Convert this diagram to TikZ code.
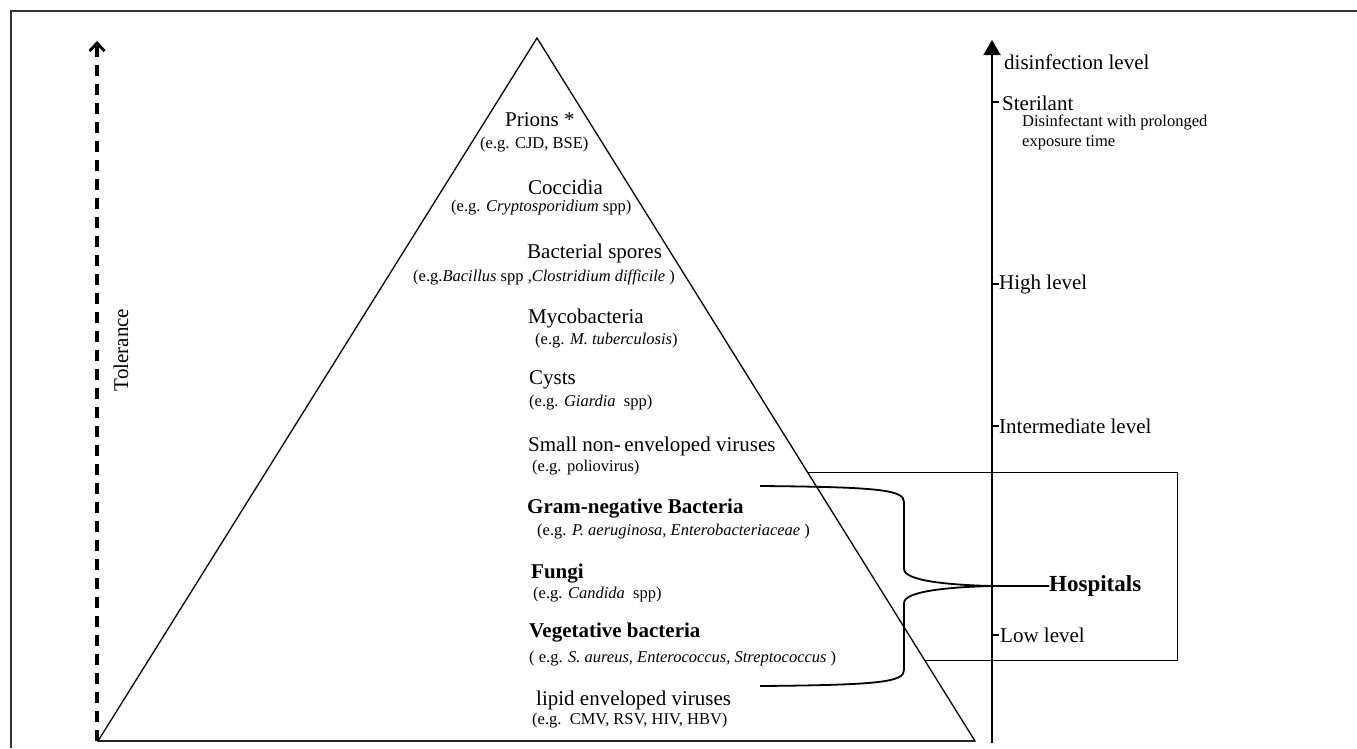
\documentclass[tikz,border=0pt]{standalone}
\usepackage{fontspec}
\setmainfont{Liberation Serif}
\usetikzlibrary{arrows.meta}
\begin{document}
\begin{tikzpicture}[x=1pt,y=-1pt,
  lbl/.style={anchor=west,inner sep=0pt,font=\fontsize{21}{25}\selectfont},
  blbl/.style={anchor=west,inner sep=0pt,font=\fontsize{21}{25}\selectfont\bfseries},
  sub/.style={anchor=west,inner sep=0pt,font=\fontsize{16.5}{20}\selectfont},
  tick/.style={line width=1.3pt},
  bracestyle/.style={line width=1.8pt},
  tolaxis/.style={line width=3.3pt,dash pattern=on 11pt off 8pt,-{Straight Barb[length=8pt,width=15pt,line width=2.8pt]}},
  disaxis/.style={line width=2pt,-{Triangle[length=15pt,width=17pt]}}]
\useasboundingbox (0,0) rectangle (1357,748);
% frame
\draw[line width=1.5pt,black!80] (11,748) -- (11,11) -- (1357,11);
% hospital box (behind triangle)
\draw[line width=1pt] (808,472) rectangle (1177,660);
% triangle
\coordinate (apex) at (537,38);
\coordinate (bl) at (98,741);
\coordinate (br) at (975,741);
\filldraw[fill=white,line width=1.3pt] (apex) -- (bl) -- (br) -- cycle;
\draw[line width=2pt,black!85] (bl) -- (br);
% tolerance axis
\coordinate (tolB) at (97,741);
\coordinate (tolT) at (97,41);
\draw[tolaxis] (tolB) -- (tolT);
\node[lbl,anchor=center,rotate=90] (tol) at (121,350) {Tolerance};
% disinfection axis
\coordinate (axB) at (992,743);
\coordinate (axT) at (992,40);
\draw[disaxis] (axB) -- (axT);
\node[lbl] (dl) at (1004,62) {disinfection level};
\draw[tick] (992,102) -- (999,102);
\node[lbl] (ster) at (1002,103) {Sterilant};
\node[sub] (dis1) at (1022,122) {Disinfectant with prolonged};
\node[sub] (dis2) at (1022,143) {exposure time};
\draw[tick] (992,284) -- (999,284);
\node[lbl] (high) at (999,284) {High level};
\draw[tick] (992,426) -- (999,426);
\node[lbl] (inter) at (999,426) {Intermediate level};
\draw[tick] (992,635) -- (999,635);
\node[lbl] (low) at (1000,635) {Low level};
% pyramid labels
\node[lbl] (prions) at (505,120) {Prions *};
\node[sub] (prionsE) at (480,145) {(e.g. CJD, BSE)};
\node[lbl] (cocc) at (528,187) {Coccidia};
\node[sub] (coccE) at (451,208) {(e.g. \textit{Cryptosporidium} spp)};
\node[lbl] (spores) at (527,253) {Bacterial spores};
\node[sub] (sporesE) at (413,277) {(e.g.\textit{Bacillus} spp ,\textit{Clostridium difficile} )};
\node[lbl] (myco) at (528,318) {Mycobacteria};
\node[sub] (mycoE) at (535,341) {(e.g. \textit{M. tuberculosis})};
\node[lbl] (cysts) at (529,380) {Cysts};
\node[sub] (cystsE) at (529,403) {(e.g. \textit{Giardia}\ \ spp)};
\node[lbl] (small) at (528,446) {Small non-\,enveloped viruses};
\node[sub] (smallE) at (532,468) {(e.g. poliovirus)};
\node[blbl] (gram) at (527,509) {Gram-negative Bacteria};
\node[sub] (gramE) at (537,532) {(e.g. \textit{P. aeruginosa, Enterobacteriaceae} )};
\node[blbl] (fungi) at (531,574) {Fungi};
\node[sub] (fungiE) at (533,595) {(e.g. \textit{Candida}\ \ spp)};
\node[blbl] (veg) at (529,633) {Vegetative bacteria};
\node[sub] (vegE) at (529,659) {( e.g. \textit{S. aureus, Enterococcus, Streptococcus} )};
\node[lbl] (lipid) at (536,700) {lipid enveloped viruses};
\node[sub] (lipidE) at (532,721) {(e.g.\ \ CMV, RSV, HIV, HBV)};
% hospitals brace
\node[anchor=west,inner sep=0pt,font=\fontsize{23}{27}\selectfont\bfseries] (hosp) at (1049,586) {Hospitals};
\coordinate (bt) at (760,486);
\coordinate (bb) at (760,686);
\coordinate (tip) at (992,586);
\draw[bracestyle] (bt) .. controls (880,487) and (904,490) .. (904,502)
  -- (904,569) .. controls (904,581) and (950,585) .. (tip)
  -- (hosp.west);
\draw[bracestyle] (tip) .. controls (950,587) and (904,591) .. (904,603)
  -- (904,670) .. controls (904,682) and (880,685) .. (bb);
\end{tikzpicture}
\end{document}
